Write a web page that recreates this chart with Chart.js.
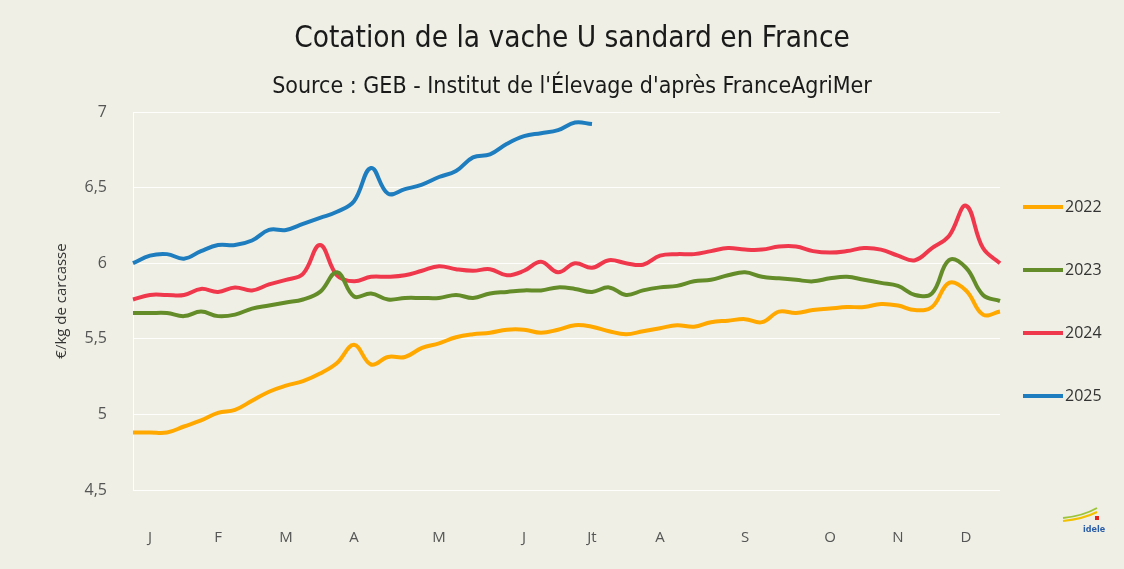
<!DOCTYPE html>
<html>
<head>
<meta charset="utf-8">
<script src="https://cdn.jsdelivr.net/npm/chart.js@4.4.1/dist/chart.umd.min.js"></script>
<style>
  html, body { margin: 0; padding: 0; background: #EFEFE6; }
  #wrap { width: 1124px; height: 569px; }
</style>
</head>
<body>
<div id="wrap"><canvas id="cotation-chart"></canvas></div>
<script>
// semaines de l'année
var weeks = [1, 2, 3, 4, 5, 6, 7, 8, 9, 10, 11, 12, 13, 14, 15, 16, 17, 18, 19, 20,
  21, 22, 23, 24, 25, 26, 27, 28, 29, 30, 31, 32, 33, 34, 35, 36, 37, 38, 39, 40,
  41, 42, 43, 44, 45, 46, 47, 48, 49, 50, 51, 52];
// libellés des mois et la semaine où ils sont affichés
var monthLabels = ["J", "F", "M", "A", "M", "J", "Jt", "A", "S", "O", "N", "D"];
var monthWeeks = [2, 6, 10, 14, 19, 24, 28, 32, 37, 42, 46, 50];

var values2022 = [4.88, 4.88, 4.88, 4.92, 4.96, 5.01, 5.03, 5.09, 5.15, 5.19,
  5.22, 5.27, 5.34, 5.46, 5.33, 5.38, 5.38, 5.44, 5.47, 5.51,
  5.53, 5.54, 5.56, 5.56, 5.54, 5.56, 5.59, 5.58, 5.55, 5.53,
  5.55, 5.57, 5.59, 5.58, 5.61, 5.62, 5.63, 5.61, 5.68, 5.67,
  5.69, 5.70, 5.71, 5.71, 5.73, 5.72, 5.69, 5.71, 5.87, 5.82,
  5.66, 5.68];
var values2023 = [5.67, 5.67, 5.67, 5.65, 5.68, 5.65, 5.66, 5.70, 5.72, 5.74,
  5.76, 5.81, 5.94, 5.78, 5.80, 5.76, 5.77, 5.77, 5.77, 5.79,
  5.77, 5.80, 5.81, 5.82, 5.82, 5.84, 5.83, 5.81, 5.84, 5.79,
  5.82, 5.84, 5.85, 5.88, 5.89, 5.92, 5.94, 5.91, 5.90, 5.89,
  5.88, 5.90, 5.91, 5.89, 5.87, 5.85, 5.79, 5.80, 6.02, 5.97,
  5.79, 5.75];
var values2024 = [5.76, 5.79, 5.79, 5.79, 5.83, 5.81, 5.84, 5.82, 5.86, 5.89,
  5.93, 6.12, 5.92, 5.88, 5.91, 5.91, 5.92, 5.95, 5.98, 5.96,
  5.95, 5.96, 5.92, 5.95, 6.01, 5.94, 6.00, 5.97, 6.02, 6.00,
  5.99, 6.05, 6.06, 6.06, 6.08, 6.10, 6.09, 6.09, 6.11, 6.11,
  6.08, 6.07, 6.08, 6.10, 6.09, 6.05, 6.02, 6.10, 6.18, 6.38,
  6.10, 6.00];
var values2025 = [6.00, 6.05, 6.06, 6.03, 6.08, 6.12, 6.12, 6.15, 6.22, 6.22,
  6.26, 6.30, 6.34, 6.41, 6.63, 6.46, 6.49, 6.52, 6.57, 6.61,
  6.70, 6.72, 6.79, 6.84, 6.86, 6.88, 6.93, 6.92];

var yTicks = [4.5, 5, 5.5, 6, 6.5, 7];

var color2022 = "#FFA800";
var color2023 = "#648C28";
var color2024 = "#F0384C";
var color2025 = "#1E7DBE";

var condensed = "'Liberation Sans Narrow', 'DejaVu Sans Condensed', 'Open Sans', sans-serif";

// fond beige
var bgPlugin = {
  id: "bg",
  beforeDraw: function (chart) {
    var ctx = chart.ctx;
    ctx.save();
    ctx.fillStyle = "#EFEFE6";
    ctx.fillRect(0, 0, chart.width, chart.height);
    ctx.restore();
  }
};

// légende à droite, un trait + l'année
var sideLegend = {
  id: "sideLegend",
  afterDraw: function (chart) {
    var ctx = chart.ctx;
    var area = chart.chartArea;
    ctx.save();
    chart.data.datasets.forEach(function (ds, i) {
      var x = area.right + 23;
      var y = area.top + 95 + i * 63;
      ctx.strokeStyle = ds.borderColor;
      ctx.lineWidth = 4;
      ctx.beginPath();
      ctx.moveTo(x, y);
      ctx.lineTo(x + 40, y);
      ctx.stroke();
      ctx.fillStyle = "#333333";
      ctx.font = "16px 'Open Sans', sans-serif";
      ctx.textBaseline = "middle";
      ctx.fillText(ds.label, x + 42, y);
    });
    // petit logo idele
    var lx = area.right + 63, ly = area.bottom + 28;
    ctx.lineWidth = 2;
    ctx.strokeStyle = "#9CC53A";
    ctx.beginPath();
    ctx.moveTo(lx, ly);
    ctx.quadraticCurveTo(lx + 20, ly - 2, lx + 34, ly - 10);
    ctx.stroke();
    ctx.strokeStyle = "#F2C200";
    ctx.beginPath();
    ctx.moveTo(lx, ly + 3);
    ctx.quadraticCurveTo(lx + 20, ly + 1, lx + 34, ly - 6);
    ctx.stroke();
    ctx.fillStyle = "#E2231A";
    ctx.fillRect(lx + 32, ly - 2, 4, 4);
    ctx.fillStyle = "#2A5DA8";
    ctx.font = "bold 8px 'DejaVu Sans', sans-serif";
    ctx.textBaseline = "alphabetic";
    ctx.fillText("idele", lx + 20, ly + 14);
    ctx.restore();
  }
};

function dataset(label, data, color) {
  return {
    label: label,
    data: data,
    borderColor: color,
    backgroundColor: color,
    borderWidth: 4,
    pointRadius: 0,
    tension: 0.4,
    fill: false,
  };
}

new Chart("cotation-chart", {
  type: "line",
  data: {
    labels: weeks,
    datasets: [
      dataset("2022", values2022, color2022),
      dataset("2023", values2023, color2023),
      dataset("2024", values2024, color2024),
      dataset("2025", values2025, color2025),
    ],
  },
  options: {
    responsive: true,
    maintainAspectRatio: false,
    animation: false,
    layout: { padding: { left: 20, right: 0, top: 0, bottom: 22 } },
    plugins: {
      legend: { display: false },
      tooltip: { enabled: false },
      title: {
        display: true,
        text: "Cotation de la vache U sandard en France",
        color: "#1A1A1A",
        font: { family: condensed, size: 29.5, weight: "normal" },
        padding: { top: 22, bottom: 16 },
      },
      subtitle: {
        display: true,
        text: "Source : GEB - Institut de l'Élevage d'après FranceAgriMer",
        color: "#1A1A1A",
        font: { family: condensed, size: 23, weight: "normal" },
        padding: { top: 0, bottom: 11 },
      },
    },
    scales: {
      x: {
        offset: false,
        grid: { display: false, drawTicks: false },
        border: { display: false },
        afterFit: function (axis) { axis.height = 57; },
        ticks: {
          autoSkip: false,
          maxRotation: 0,
          padding: 39,
          color: "#555555",
          font: { family: "'Open Sans', sans-serif", size: 15 },
          callback: function (value, index) {
            var k = monthWeeks.indexOf(weeks[index]);
            return k >= 0 ? monthLabels[k] : "";
          },
        },
      },
      y: {
        min: 4.5,
        max: 7,
        afterBuildTicks: function (axis) {
          axis.ticks = yTicks.map(function (v) { return { value: v }; });
        },
        afterFit: function (axis) { axis.width = 113; },
        grid: { color: "rgba(255,255,255,0.9)", lineWidth: 1, drawTicks: false },
        border: { display: true, color: "rgba(255,255,255,0.9)" },
        ticks: {
          padding: 26,
          color: "#555555",
          font: { family: "'Open Sans', sans-serif", size: 16 },
          callback: function (value) {
            return String(value).replace(".", ",");
          },
        },
        title: {
          display: true,
          text: "€/kg de carcasse",
          color: "#333333",
          font: { family: "'Open Sans', sans-serif", size: 15 },
          padding: { top: 33, bottom: 4 },
        },
      },
      // espace réservé à droite pour la légende
      legendSpace: {
        position: "right",
        display: true,
        grid: { display: false, drawTicks: false },
        border: { display: false },
        ticks: { display: false },
        afterFit: function (axis) { axis.width = 124; },
      },
    },
  },
  plugins: [bgPlugin, sideLegend],
});
</script>
</body>
</html>
